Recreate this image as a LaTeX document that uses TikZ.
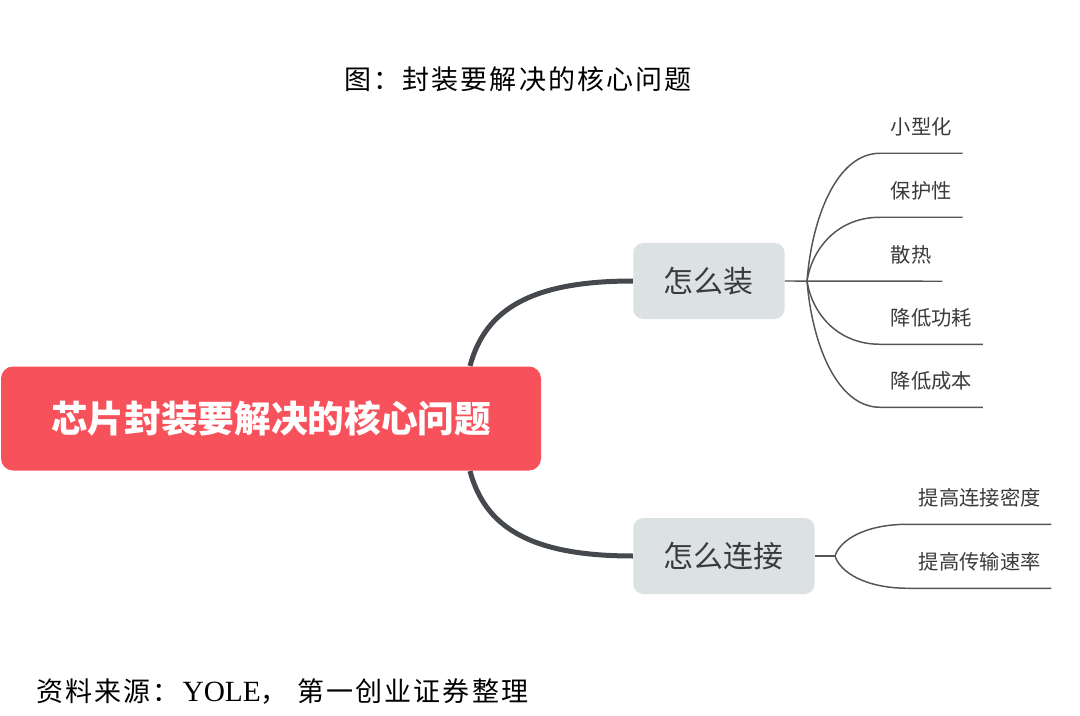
\documentclass[tikz,border=0pt]{standalone}
\usepackage{fontspec}
\setmainfont{Noto Sans CJK SC}
\newfontfamily\titlefont{Noto Sans CJK SC}[LetterSpace=8]
\newfontfamily\latinserif{Liberation Serif}
\usetikzlibrary{backgrounds}
\definecolor{rootred}{HTML}{F7525B}
\definecolor{subgray}{HTML}{DCE2E4}
\definecolor{thickc}{HTML}{45494E}
\definecolor{thinc}{HTML}{555555}
\definecolor{txt}{HTML}{3A3A3A}
\begin{document}
\begin{tikzpicture}[x=0.75pt,y=-0.75pt,
 rootbox/.style={fill=rootred, rounded corners=9pt, minimum width=405pt, minimum height=78pt, inner sep=0pt, text=white, font=\fontsize{27.5pt}{30pt}\selectfont\bfseries},
 subbox/.style={fill=subgray, rounded corners=7.5pt, minimum height=57pt, inner xsep=23pt, inner ysep=0pt, text=txt, font=\fontsize{22.5pt}{25pt}\selectfont, anchor=west},
 leaf/.style={anchor=west, minimum height=39pt, inner xsep=8pt, inner ysep=0pt, text=txt, font=\fontsize{15.2pt}{17pt}\selectfont},
 thickline/.style={draw=thickc, line width=3.75pt},
 thinline/.style={draw=thinc, line width=1.1pt},
 caption/.style={font=\fontsize{20.25pt}{22pt}\selectfont, text=black, inner sep=0pt}]
\useasboundingbox (0,0) rectangle (1080,716);

\node[caption] (title) at (518,79) {\titlefont 图：封装要解决的核心问题};
\node[caption, anchor=west] (source) at (36,692) {\titlefont 资料来源：\hspace{2pt}{\latinserif\fontsize{22pt}{24pt}\selectfont YOLE}\titlefont ，\hspace{7pt}第一创业证券整理};

\node[rootbox] (root) at (271,418.5) {芯片封装要解决的核心问题};
\node[subbox] (a1) at (633,281) {怎么装};
\node[subbox] (a2) at (633,556) {怎么连接};

\node[leaf] (l1) at (880,127) {小型化};
\node[leaf] (l2) at (880,191) {保护性};
\node[leaf] (l3) at (880,255) {散热};
\node[leaf] (l4) at (880,318) {降低功耗};
\node[leaf] (l5) at (880,381) {降低成本};
\node[leaf] (m1) at (908,498) {提高连接密度};
\node[leaf] (m2) at (908,562) {提高传输速率};

\coordinate (rt) at (470,366);
\coordinate (rb) at (470,471);
\coordinate (f1) at (807,281);
\coordinate (f2) at (835,556);

\begin{pgfonlayer}{background}
\draw[thickline] (rt) .. controls (485,310) and (530,281) .. (a1.west);
\draw[thickline] (rb) .. controls (485,527) and (530,556) .. (a2.west);
\end{pgfonlayer}

\draw[thinline] (a1.east) -- (l3.south east);
\draw[thinline] (f1) .. controls +(5,-64) and +(-43,0) .. (l1.south west) -- (l1.south east);
\draw[thinline] (f1) .. controls +(5,-32) and +(-43,0) .. (l2.south west) -- (l2.south east);
\draw[thinline] (f1) .. controls +(5,32) and +(-43,0) .. (l4.south west) -- (l4.south east);
\draw[thinline] (f1) .. controls +(5,63) and +(-43,0) .. (l5.south west) -- (l5.south east);

\draw[thinline] (a2.east) -- (f2);
\draw[thinline] (f2) .. controls +(5,-16) and +(-43,0) .. (m1.south west) -- (m1.south east);
\draw[thinline] (f2) .. controls +(5,16) and +(-43,0) .. (m2.south west) -- (m2.south east);
\end{tikzpicture}
\end{document}
